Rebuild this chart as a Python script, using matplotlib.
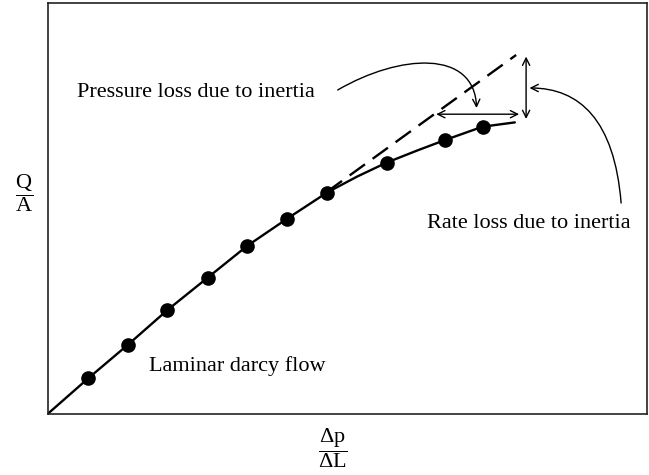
import matplotlib.pyplot as plt
from matplotlib.patches import FancyArrowPatch
from matplotlib.path import Path

plt.rcParams['font.family'] = 'Liberation Serif'
plt.rcParams['mathtext.fontset'] = 'custom'
plt.rcParams['mathtext.rm'] = 'Liberation Serif'

pts_x = [40.6, 80.7, 120.0, 160.2, 199.9, 240.1, 279.8, 339.4, 398.2, 435.4]
pts_y = [35.6, 69.5, 104.0, 136.3, 168.2, 195.5, 221.5, 251.4, 274.1, 287.3]

# the fitted curve through the points, from the origin to its end
curve_x = [0, 40.6, 80.7, 120.0, 160.2, 199.9, 240.1, 279.8, 310.0, 339.4, 370.0, 398.2, 435.4, 467.7]
curve_y = [0, 35.6, 69.5, 104.0, 136.3, 168.2, 195.5, 221.5, 237.5, 251.4, 263.5, 274.1, 287.3, 291.6]

# dashed extrapolation of the darcy line
dash_x = [279.4, 469.0]
dash_y = [222.0, 359.0]

fig = plt.figure(figsize=(6.49, 4.75), dpi=100)
ax = fig.add_axes([0.0733, 0.1284, 0.9236, 0.8653])
ax.set_xlim(0, 600)
ax.set_ylim(0, 411)
ax.set_xticks([])
ax.set_yticks([])
for s in ax.spines.values():
    s.set_linewidth(1.2)
    s.set_color('#222222')

ax.plot(curve_x, curve_y, color='black', lw=1.7, solid_capstyle='round')
ax.plot(dash_x, dash_y, color='black', lw=1.7, ls=(0, (8, 4)))
ax.plot(pts_x, pts_y, 'o', color='black', ms=9.5)

arrow_kw = dict(arrowstyle='<->', lw=1.0, color='black',
                mutation_scale=13, shrinkA=0, shrinkB=0)
# double arrows
ax.annotate('', xy=(479, 357.4), xytext=(479, 295), arrowprops=arrow_kw)
ax.annotate('', xy=(389, 299.8), xytext=(472, 299.8), arrowprops=arrow_kw)

# curved pointer arrows (cubic curves)
bez = [Path.MOVETO, Path.CURVE4, Path.CURVE4, Path.CURVE4]
p1 = Path([(290.4, 324), (352.4, 360), (427.4, 365), (429.4, 306)], bez)
p2 = Path([(574.1, 211), (567.4, 294), (532.4, 326), (482.4, 326)], bez)
for p in (p1, p2):
    ax.add_patch(FancyArrowPatch(path=p, arrowstyle='->', lw=1.0, color='black',
                                 mutation_scale=13, transform=ax.transData))

ax.text(29.8, 321, 'Pressure loss due to inertia', fontsize=16, va='center', ha='left')
ax.text(379.5, 191, 'Rate loss due to inertia', fontsize=16, va='center', ha='left')
ax.text(102, 48, 'Laminar darcy flow', fontsize=16, va='center', ha='left')

fig.text(23.6 / 649, 1 - 193 / 475, r'$\dfrac{\mathrm{Q}}{\mathrm{A}}$', fontsize=16,
         ha='center', va='center')
fig.text(333 / 649, 1 - 448 / 475, r'$\dfrac{\Delta\mathrm{p}}{\Delta\mathrm{L}}$', fontsize=16,
         ha='center', va='center')

fig.savefig('out.png', dpi=100)
